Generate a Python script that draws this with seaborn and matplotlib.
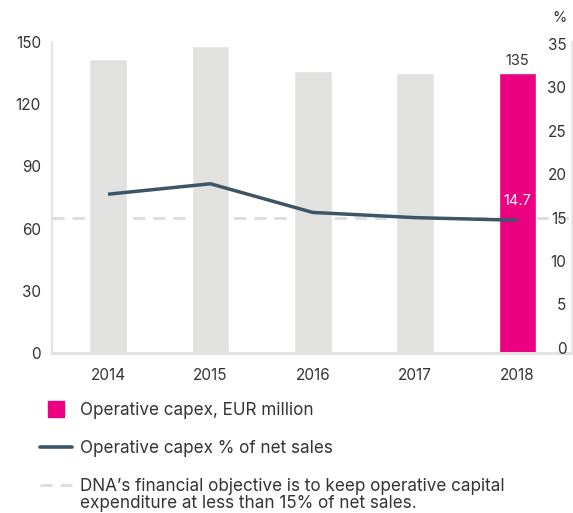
import numpy as np
import pandas as pd
import matplotlib
matplotlib.use("Agg")
import matplotlib.pyplot as plt
from matplotlib.lines import Line2D
from matplotlib.transforms import blended_transform_factory
import seaborn as sns

# Operative capex figures
years = ["2014", "2015", "2016", "2017", "2018"]
capex_meur = [142, 148, 136, 135, 135]
capex_pct = [17.7, 18.9, 15.6, 15.0, 14.7]
target_pct = 15
left_ticks = [0, 30, 60, 90, 120, 150]
right_ticks = [0, 5, 10, 15, 20, 25, 30, 35]

GREY_BAR = "#E1E2E0"
MAGENTA = "#EB0082"
SLATE = "#3E5566"
DASH = "#DEDEDE"
SPINE = "#E3E3E3"
TEXT = "#333333"

sns.set_theme(style="white")
plt.rcParams["font.family"] = ["Inter", "DejaVu Sans"]
plt.rcParams["text.color"] = TEXT
plt.rcParams["xtick.color"] = TEXT
plt.rcParams["ytick.color"] = TEXT

W, H = 573, 513
fig = plt.figure(figsize=(W / 100, H / 100), dpi=100)
ax = fig.add_axes([52 / W, 1 - 353 / H, 520 / W, 311 / H])

df = pd.DataFrame({"year": years, "capex": capex_meur, "pct": capex_pct})
df["pos"] = np.arange(len(years))
palette = {y: (MAGENTA if i == len(years) - 1 else GREY_BAR) for i, y in enumerate(years)}

sns.barplot(data=df, x="year", y="capex", hue="year", palette=palette,
            width=0.367, saturation=1, legend=False, ax=ax, zorder=2)
ax.bar_label(ax.containers[-1], fmt="%d", padding=3.5, fontsize=10.5, color=TEXT)

ax.set_xlim(-0.547, 4.532)
ax.set_ylim(0, 150)
ax.set_yticks(left_ticks)
ax.set_xlabel("")
ax.set_ylabel("")
ax.tick_params(axis="y", length=0, pad=8, labelsize=11)
ax.tick_params(axis="x", length=0, pad=11, labelsize=11)

for side in ["top", "right"]:
    ax.spines[side].set_visible(False)
ax.spines["left"].set_color(SPINE)
ax.spines["left"].set_linewidth(1.5)
ax.spines["bottom"].set_color(SPINE)
ax.spines["bottom"].set_linewidth(2.2)

ax2 = ax.twinx()
ax2.set_ylim(-0.59, 35.23)
ax2.set_yticks(right_ticks)

# 15 % target line, kept behind the bars
dash_tf = blended_transform_factory(ax.transAxes, ax2.transData)
target_line, = ax.plot([0, 1], [target_pct, target_pct], transform=dash_tf,
                       color=DASH, lw=2.2, dashes=(4.0, 2.6), zorder=1)

sns.lineplot(data=df, x="pos", y="pct", color=SLATE, lw=2.5, ax=ax2,
             solid_capstyle="butt")
ax2.annotate(f"{capex_pct[-1]}", (len(years) - 1, capex_pct[-1]),
             xytext=(0, 9), textcoords="offset points",
             ha="center", va="bottom", color="white", fontsize=10.5)

ax2.set_xlabel("")
ax2.set_ylabel("")
ax2.tick_params(axis="y", length=0, pad=-4, labelsize=11)
for lab in ax2.get_yticklabels():
    lab.set_horizontalalignment("right")
for side in ["top", "left", "bottom"]:
    ax2.spines[side].set_visible(False)
ax2.spines["right"].set_color(SPINE)
ax2.spines["right"].set_linewidth(1.2)
fig.text(567 / W, 1 - 18 / H, "%", ha="right", va="center", fontsize=10.5, color=TEXT)

handles = [
    Line2D([], [], marker="s", ls="none", color=MAGENTA, markersize=11.5),
    Line2D([], [], color=SLATE, lw=2.6),
    target_line,
]
labels = [
    "Operative capex, EUR million",
    "Operative capex % of net sales",
    "DNA\u2019s financial objective is to keep operative capital",
]
LEG_FS = 12.3
leg = fig.legend(handles, labels, loc="upper left", bbox_to_anchor=(40 / W, 1 - 402 / H),
                 frameon=False, fontsize=LEG_FS, handlelength=1.85, handletextpad=0.52,
                 labelspacing=1.22, borderpad=0, borderaxespad=0)

# continuation line of the last legend entry, aligned under its first line
fig.canvas.draw()
bb = leg.get_texts()[-1].get_window_extent().transformed(fig.transFigure.inverted())
fig.text(bb.x0, 1 - 508 / H, "expenditure at less than 15% of net sales.",
         ha="left", va="baseline", fontsize=LEG_FS, color=TEXT)

fig.savefig("out.png", dpi=100)
